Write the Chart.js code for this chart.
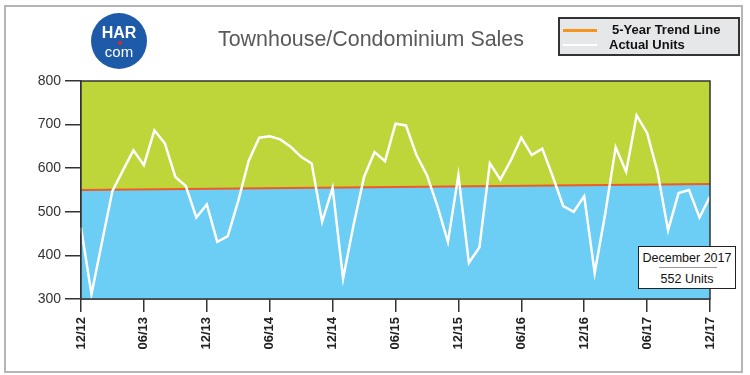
<!DOCTYPE html>
<html>
<head>
<meta charset="utf-8">
<script src="https://cdn.jsdelivr.net/npm/chart.js@4/dist/chart.umd.min.js"></script>
<style>
  html, body { margin:0; padding:0; background:#fff; }
  #wrap { position:relative; width:750px; height:375px; overflow:hidden; font-family: Arial, "Liberation Sans", sans-serif; }
  #frame { position:absolute; left:4px; top:5px; width:735px; height:364px; border:2px solid #b5b5b5; }
  canvas { position:absolute; left:0; top:0; }
  #logo { position:absolute; left:91px; top:13px; width:56px; height:56px; border-radius:50%; background:#1d5ba8; color:#fff; text-align:center; }
  #logo .har { position:absolute; left:0; width:56px; top:12px; font-weight:bold; font-size:16px; line-height:16px; }
  #logo .dot { position:absolute; left:27px; top:28px; width:4px; height:4px; border-radius:50%; background:#e0262b; }
  #logo .com { position:absolute; left:0; width:56px; top:31px; font-size:15px; line-height:16px; }
  #title { position:absolute; left:218px; top:26px; font-size:22px; line-height:26px; color:#58595b; white-space:nowrap; transform-origin:0 0; }
  #legend { position:absolute; left:558px; top:17px; width:178px; height:35px; background:#e6e7e8; border:2px solid #333; }
  .lg { position:absolute; left:3px; width:34px; }
  .lt { position:absolute; font-weight:bold; font-size:13px; line-height:14px; color:#111; white-space:nowrap; }
  #anno { position:absolute; left:638px; top:246px; width:96px; height:41px; background:#fff; border:1.5px solid #222; text-align:center; font-size:12.5px; color:#111; }
  #anno .l1 { position:absolute; left:0; width:96px; top:4px; line-height:14px; }
  #anno .sep { position:absolute; left:20px; width:58px; top:20px; height:1px; background:#999; }
  #anno .l2 { position:absolute; left:0; width:96px; top:25px; line-height:14px; }
</style>
</head>
<body>
<div id="wrap">
  <div id="frame"></div>
  <canvas id="c" width="750" height="375"></canvas>
  <div id="logo"><div class="har">HAR</div><div class="dot"></div><div class="com">com</div></div>
  <div id="title">Townhouse/Condominium Sales</div>
  <div id="legend">
    <div class="lg" style="top:10px;height:2.5px;background:#f7941d;"></div>
    <div class="lt" style="left:52px;top:4px;">5-Year Trend Line</div>
    <div class="lg" style="top:25px;height:1.5px;background:#ffffff;"></div>
    <div class="lt" style="left:49px;top:19px;">Actual Units</div>
  </div>
  <div id="anno"><div class="l1">December 2017</div><div class="sep"></div><div class="l2">552 Units</div></div>
</div>
<script>
// ---- data ----
const categories = [
  "12/12","01/13","02/13","03/13","04/13","05/13","06/13","07/13","08/13","09/13","10/13","11/13",
  "12/13","01/14","02/14","03/14","04/14","05/14","06/14","07/14","08/14","09/14","10/14","11/14",
  "12/14","01/15","02/15","03/15","04/15","05/15","06/15","07/15","08/15","09/15","10/15","11/15",
  "12/15","01/16","02/16","03/16","04/16","05/16","06/16","07/16","08/16","09/16","10/16","11/16",
  "12/16","01/17","02/17","03/17","04/17","05/17","06/17","07/17","08/17","09/17","10/17","11/17",
  "12/17"
];
const actualUnits = [
  464, 311, 430, 548, 595, 641, 607, 687, 657, 580, 559, 487,
  517, 431, 444, 525, 617, 670, 673, 666, 649, 626, 611, 477,
  555, 347, 470, 580, 637, 616, 702, 698, 630, 584, 513, 431,
  584, 383, 418, 611, 574, 618, 670, 630, 645, 581, 513, 500,
  536, 360, 495, 648, 592, 721, 681, 591, 458, 543, 550, 487,
  535
];
const trendEnds = [550, 564];
const yTicks = [300, 400, 500, 600, 700, 800];
const shownLabels = ["12/12","06/13","12/13","06/14","12/14","06/15","12/15","06/16","12/16","06/17","12/17"];

const trendPoints = [
  { x: categories[0], y: trendEnds[0] },
  { x: categories[categories.length - 1], y: trendEnds[1] }
];

const plotBorder = {
  id: 'plotBorder',
  afterDatasetsDraw(chart) {
    const a = chart.chartArea, ctx = chart.ctx;
    ctx.save();
    ctx.strokeStyle = '#333';
    ctx.lineWidth = 1.5;
    ctx.strokeRect(a.left, a.top, a.right - a.left, a.bottom - a.top);
    ctx.restore();
  }
};

new Chart(document.getElementById('c'), {
  type: 'line',
  data: {
    labels: categories,
    datasets: [
      { data: actualUnits, borderColor: '#ffffff', borderWidth: 2.5, pointRadius: 0, tension: 0, fill: false },
      { data: trendPoints, borderColor: '#f05a28', borderWidth: 2, pointRadius: 0, tension: 0, fill: false },
      { data: trendPoints, borderColor: 'rgba(0,0,0,0)', borderWidth: 0, pointRadius: 0, fill: 'end', backgroundColor: '#bed63a' },
      { data: trendPoints, borderColor: 'rgba(0,0,0,0)', borderWidth: 0, pointRadius: 0, fill: 'start', backgroundColor: '#6ccdf5' }
    ]
  },
  options: {
    responsive: false,
    animation: false,
    layout: { padding: { left: 0, top: 81, right: 40, bottom: 0 } },
    plugins: { legend: { display: false }, tooltip: { enabled: false } },
    scales: {
      x: {
        type: 'category',
        offset: false,
        grid: { drawOnChartArea: false, tickLength: 13, color: '#333', lineWidth: 1.5 },
        border: { color: '#333', width: 1.5 },
        ticks: {
          autoSkip: false, maxRotation: 90, minRotation: 90, padding: 5,
          color: '#222', font: { family: 'Arial, "Liberation Sans"', size: 13, weight: 'bold' },
          callback: function(v) {
            const l = this.getLabelForValue(v);
            return shownLabels.includes(l) ? l : null;
          }
        },
        afterFit(s) { s.height = 76; }
      },
      y: {
        min: yTicks[0], max: yTicks[yTicks.length - 1],
        afterBuildTicks(s) { s.ticks = yTicks.map(v => ({ value: v })); },
        grid: { drawOnChartArea: false, tickLength: 16, color: '#333', lineWidth: 1.5 },
        border: { color: '#333', width: 1.5 },
        ticks: { padding: 4, color: '#333', font: { family: 'Arial, "Liberation Sans"', size: 14 } },
        afterFit(s) { s.width = 81; }
      }
    }
  },
  plugins: [plotBorder]
});

// fit title width
const t = document.getElementById('title');
const w = t.getBoundingClientRect().width;
t.style.transform = 'scaleX(' + (306 / w) + ')';
</script>
</body>
</html>
